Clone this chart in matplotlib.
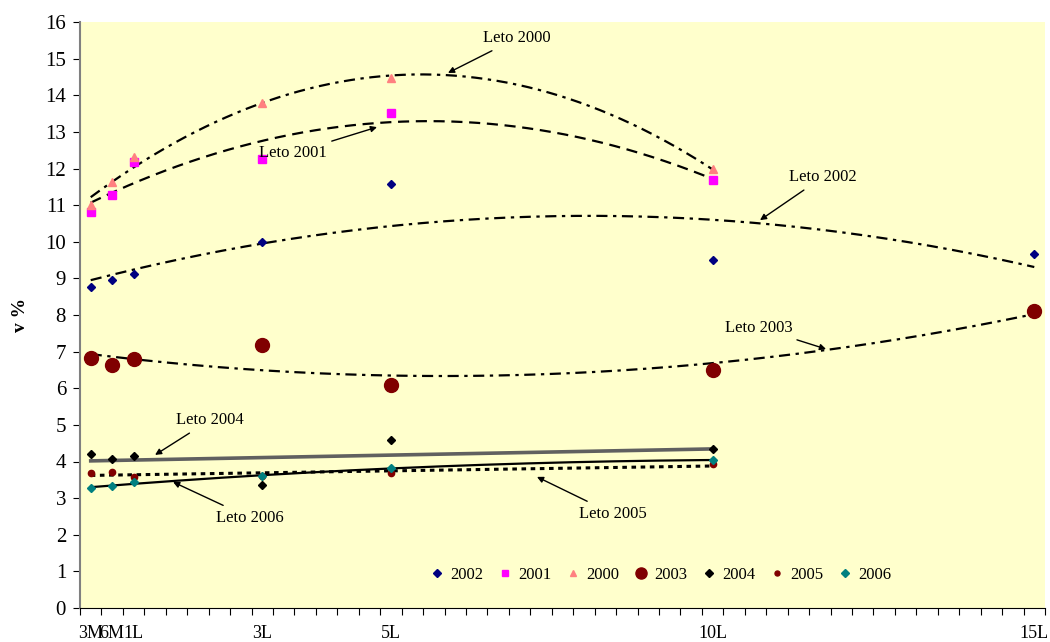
import numpy as np
import matplotlib.pyplot as plt

plt.rcParams['font.family'] = ['Liberation Serif', 'DejaVu Serif']

# x axis: Excel style category slots (45 slots), only some carry data
cat_labels = ['3M', '6M', '1L', '3L', '5L', '10L', '15L']
cat_slot = [0, 1, 2, 8, 14, 29, 44]
n_slots = 45

# v % per year
v2002 = [8.76, 8.96, 9.12, 9.99, 11.58, 9.50, 9.67]
v2001 = [10.81, 11.28, 12.18, 12.26, 13.52, 11.69]
v2000 = [11.00, 11.63, 12.31, 13.79, 14.47, 11.99]
v2003 = [6.83, 6.63, 6.80, 7.18, 6.09, 6.50, 8.11]
v2004 = [4.20, 4.07, 4.15, 3.36, 4.59, 4.34]
v2005 = [3.69, 3.71, 3.58, 3.60, 3.69, 3.93]
v2006 = [3.28, 3.33, 3.44, 3.60, 3.82, 4.04]

# name, values, marker, color, marker size, trend degree, trend line style
series = [
    ('2002', v2002, 'D', '#000080', 4.5, 2, dict(color='black', lw=1.6, dashes=(5, 2.5, 1.5, 2.5))),
    ('2001', v2001, 's', '#FF00FF', 5.5, 2, dict(color='black', lw=1.6, dashes=(5, 3))),
    ('2000', v2000, '^', '#FF8080', 6, 2, dict(color='black', lw=1.6, dashes=(5, 2.5, 1.5, 2.5))),
    ('2003', v2003, 'o', '#800000', 10, 2, dict(color='black', lw=1.6, dashes=(5, 2.5, 1.5, 2.5))),
    ('2004', v2004, 'D', '#000000', 4.5, 1, dict(color='#606060', lw=2.6, ls='-')),
    ('2005', v2005, 'o', '#800000', 4.5, 1, dict(color='black', lw=2.2, dashes=(1.5, 1.5))),
    ('2006', v2006, 'D', '#008080', 4.5, 2, dict(color='black', lw=1.6, ls='-')),
]

# label text, text position, arrow tip (data coords)
notes = [
    ('Leto 2000', (20.38, 15.56), (17.16, 14.61)),
    ('Leto 2001', (9.93, 12.42), (13.85, 13.13)),
    ('Leto 2002', (34.65, 11.77), (31.71, 10.59)),
    ('Leto 2003', (31.66, 7.65), (34.79, 7.07)),
    ('Leto 2004', (6.06, 5.13), (3.50, 4.18)),
    ('Leto 2005', (24.86, 2.57), (21.31, 3.58)),
    ('Leto 2006', (7.93, 2.46), (4.34, 3.44)),
]

fig = plt.figure(figsize=(10.5, 6.42), dpi=100)
ax = fig.add_axes([80 / 1050, 34 / 642, 965 / 1050, 586 / 642])
ax.set_facecolor('#FFFFCC')

for name, vals, mk, col, ms, deg, lstyle in series:
    x = np.array(cat_slot[:len(vals)]) + 0.5
    ax.plot(x, vals, ls='none', marker=mk, color=col, ms=ms, mec=col, label=name, zorder=3)
    coef = np.polyfit(x, vals, deg)
    xs = np.linspace(x[0], x[-1], 300)
    ax.plot(xs, np.polyval(coef, xs), zorder=2, **lstyle)

for txt, xy_text, xy_tip in notes:
    ax.annotate(txt, xy=xy_tip, xytext=xy_text, ha='center', va='center', fontsize=12,
                arrowprops=dict(arrowstyle='-|>', color='black', lw=1, mutation_scale=9,
                                shrinkA=3, shrinkB=0), zorder=5)

ax.set_xlim(0, n_slots)
ax.set_ylim(0, 16)
ax.set_yticks(range(0, 17))
ax.tick_params(axis='y', direction='out', length=5, labelsize=15, pad=5)

ax.set_xticks(range(0, n_slots + 1))
ax.set_xticks(np.array(cat_slot) + 0.5, minor=True)
ax.set_xticklabels(cat_labels, minor=True)
ax.tick_params(axis='x', which='major', direction='out', length=5, labelbottom=False)
ax.tick_params(axis='x', which='minor', length=0, labelsize=13, pad=12)

ax.spines['top'].set_visible(False)
ax.spines['right'].set_visible(False)
ax.spines['left'].set_color('#808080')
ax.spines['left'].set_linewidth(1.5)

ax.set_ylabel('v %', fontsize=14, fontweight='bold', labelpad=12)

ax.legend(loc='center', bbox_to_anchor=(0.601, 0.056), ncol=7, frameon=False, fontsize=12,
          handletextpad=0.3, columnspacing=0.8, handlelength=1.0, markerscale=0.8)

fig.savefig('out.png', dpi=100)
